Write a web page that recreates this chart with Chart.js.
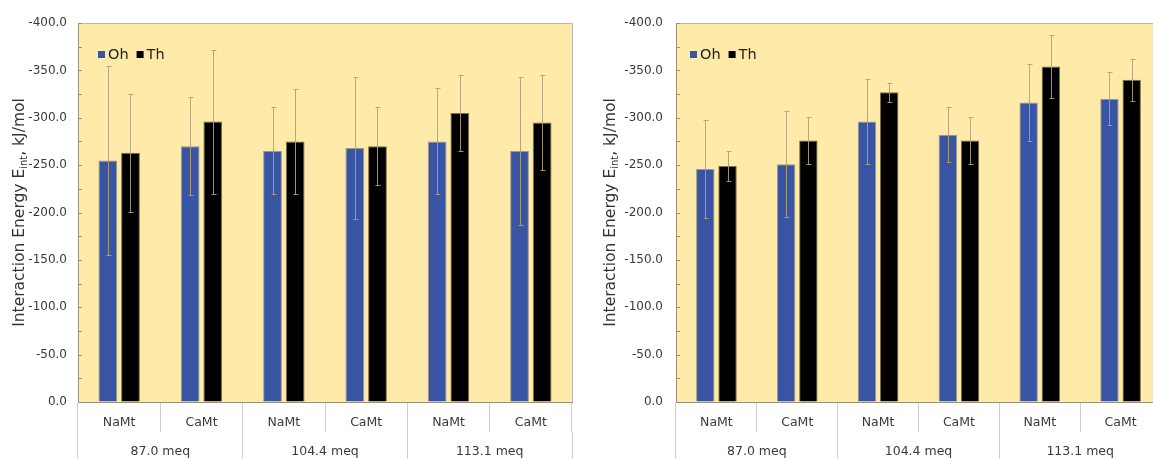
<!DOCTYPE html>
<html><head><meta charset="utf-8">
<script src="https://cdn.jsdelivr.net/npm/chart.js@4.4.1/dist/chart.umd.min.js"></script>
<style>
html,body{margin:0;padding:0;background:#fff;overflow:hidden;width:1153px;height:459px;position:relative;}
.box{position:absolute;top:0;height:459px;}
#b1{left:0;width:576px;}
#b2{left:590px;width:575px;}
</style></head><body>
<div class="box" id="b1"><canvas id="c1"></canvas></div>
<div class="box" id="b2"><canvas id="c2"></canvas></div>
<script>
// ---- data ----
const categories = ['NaMt','CaMt','NaMt','CaMt','NaMt','CaMt'];
const groups = ['87.0 meq','104.4 meq','113.1 meq'];
const seriesNames = ['Oh','Th'];
const yMin = -400, yMax = 0, yStep = 25, yLabelStep = 50;

const leftOh    = [-255, -270, -265, -268, -275, -265];
const leftOhErr = [100, 52, 46, 75, 56, 78];
const leftTh    = [-263, -296, -275, -270, -305, -295];
const leftThErr = [62, 76, 55, 41, 40, 50];

const rightOh    = [-246, -251, -296, -282, -316, -320];
const rightOhErr = [52, 56, 45, 29, 41, 28];
const rightTh    = [-249, -276, -327, -276, -354, -340];
const rightThErr = [16, 25, 10, 25, 33, 22];

const titleMain = 'Interaction Energy E';
const titleSub = 'int';
const titleTail = ', kJ/mol';

// ---- styles ----
const FONT = 'DejaVu Sans';
const OH_COLOR = '#3A54A4';
const TH_COLOR = '#000000';
const PLOT_BG = '#FFEBA9';
const AXIS_COLOR = '#9a9272';
const SEP_COLOR = '#cfcfcf';
const TEXT_COLOR = '#3a3a3a';

Chart.defaults.font.family = FONT;

const deco = {
  id: 'deco',
  beforeDraw(chart) {
    const {ctx, chartArea: a} = chart;
    ctx.save();
    ctx.fillStyle = PLOT_BG;
    ctx.fillRect(a.left, a.top, a.right - a.left, a.bottom - a.top);
    ctx.restore();
  },
  beforeDatasetsDraw(chart) {
    const {ctx, chartArea: a} = chart;
    ctx.save();
    ctx.lineWidth = 1;
    ctx.strokeStyle = '#b8b8b8';
    ctx.beginPath();
    ctx.moveTo(a.left, Math.round(a.top) + 0.5);
    ctx.lineTo(Math.round(a.right) + 0.5, Math.round(a.top) + 0.5);
    ctx.lineTo(Math.round(a.right) + 0.5, a.bottom);
    ctx.stroke();
    const ys = chart.scales.y;
    ctx.strokeStyle = AXIS_COLOR;
    ys.ticks.forEach(t => {
      const py = Math.round(ys.getPixelForValue(t.value)) + 0.5;
      ctx.beginPath();
      ctx.moveTo(a.left, py);
      ctx.lineTo(a.left + 4, py);
      ctx.stroke();
    });
    ctx.restore();
  },
  afterDatasetsDraw(chart, args, o) {
    const {ctx} = chart;
    const ys = chart.scales.y;
    ctx.save();
    ctx.strokeStyle = 'rgba(175,160,115,0.9)';
    ctx.lineWidth = 1;
    chart.data.datasets.forEach((ds, i) => {
      const meta = chart.getDatasetMeta(i);
      meta.data.forEach((bar, j) => {
        const v = ds.data[j], e = ds.errors[j];
        const x = Math.round(bar.x) + 0.5;
        const y1 = Math.round(ys.getPixelForValue(v - e)) + 0.5;
        const y2 = Math.round(ys.getPixelForValue(v + e)) + 0.5;
        ctx.beginPath();
        ctx.moveTo(x, y1); ctx.lineTo(x, y2);
        ctx.moveTo(x - 2, y1); ctx.lineTo(x + 3, y1);
        ctx.moveTo(x - 2, y2); ctx.lineTo(x + 3, y2);
        ctx.stroke();
      });
    });
    ctx.restore();
  },
  afterDraw(chart, args, o) {
    const {ctx, chartArea: a} = chart;
    // legend
    ctx.save();
    ctx.font = '14.5px ' + FONT;
    ctx.textBaseline = 'middle';
    ctx.textAlign = 'left';
    let lx = a.left + o.legendDx;
    const ly = 51;
    chart.data.datasets.forEach((ds) => {
      ctx.fillStyle = ds.backgroundColor;
      ctx.fillRect(lx, ly, 7, 7);
      ctx.fillStyle = '#222';
      ctx.fillText(ds.label, lx + 10, ly + 4);
      lx += 10 + ctx.measureText(ds.label).width + 8;
    });
    ctx.restore();
    // y title with subscript
    ctx.save();
    const cy = (a.top + a.bottom) / 2;
    ctx.translate(o.titleX, cy);
    ctx.rotate(-Math.PI / 2);
    ctx.fillStyle = '#333';
    ctx.textBaseline = 'middle';
    ctx.textAlign = 'left';
    const big = '15.5px ' + FONT, small = '10px ' + FONT;
    ctx.font = big; const w1 = ctx.measureText(titleMain).width; const w3 = ctx.measureText(titleTail).width;
    ctx.font = small; const w2 = ctx.measureText(titleSub).width;
    let sx = -(w1 + w2 + w3) / 2;
    ctx.font = big; ctx.fillText(titleMain, sx, 0); sx += w1;
    ctx.font = small; ctx.fillText(titleSub, sx, 4); sx += w2;
    ctx.font = big; ctx.fillText(titleTail, sx, 0);
    ctx.restore();
  }
};

function makeChart(id, oh, ohErr, th, thErr, yWidth, tickPad, legendDx, titleX) {
  return new Chart(document.getElementById(id), {
    type: 'bar',
    data: {
      labels: categories,
      datasets: [
        {label: seriesNames[0], data: oh, errors: ohErr, backgroundColor: OH_COLOR,
         borderColor: 'rgba(120,125,130,0.75)', borderWidth: 1,
         categoryPercentage: 0.55, barPercentage: 0.83},
        {label: seriesNames[1], data: th, errors: thErr, backgroundColor: TH_COLOR,
         borderColor: 'rgba(110,100,60,0.9)', borderWidth: 1,
         categoryPercentage: 0.55, barPercentage: 0.83}
      ]
    },
    options: {
      responsive: true,
      maintainAspectRatio: false,
      animation: false,
      events: [],
      layout: {padding: {top: 23, right: 4, left: 0, bottom: 0}},
      plugins: {legend: {display: false}, tooltip: {enabled: false},
        deco: {legendDx: legendDx, titleX: titleX}},
      scales: {
        x: {
          type: 'category', position: 'bottom', weight: 1, offset: true,
          grid: {offset: true, drawOnChartArea: false, drawTicks: true, tickLength: 30, color: SEP_COLOR},
          border: {display: true, color: AXIS_COLOR},
          ticks: {padding: -17, color: TEXT_COLOR, font: {size: 12.5}, autoSkip: false, maxRotation: 0},
          afterFit: s => { s.height = 30; }
        },
        x2: {
          type: 'category', position: 'bottom', weight: 2, offset: true, labels: groups,
          grid: {offset: true, drawOnChartArea: false, drawTicks: true, tickLength: 27, color: SEP_COLOR},
          border: {display: false},
          ticks: {padding: -15, color: TEXT_COLOR, font: {size: 12.5}, autoSkip: false, maxRotation: 0},
          afterFit: s => { s.height = 27; }
        },
        y: {
          type: 'linear', reverse: true, min: yMin, max: yMax,
          grid: {drawOnChartArea: false, drawTicks: false},
          border: {display: true, color: AXIS_COLOR},
          ticks: {stepSize: yStep, autoSkip: false, padding: tickPad, color: TEXT_COLOR, font: {size: 12},
            callback: v => (v % yLabelStep === 0) ? Number(v).toFixed(1) : ''},
          afterFit: s => { s.width = yWidth; }
        }
      }
    },
    plugins: [deco]
  });
}

makeChart('c1', leftOh, leftOhErr, leftTh, leftThErr, 78, 11, 20, 20);
makeChart('c2', rightOh, rightOhErr, rightTh, rightThErr, 86, 13, 14, 21);
</script>
</body></html>
